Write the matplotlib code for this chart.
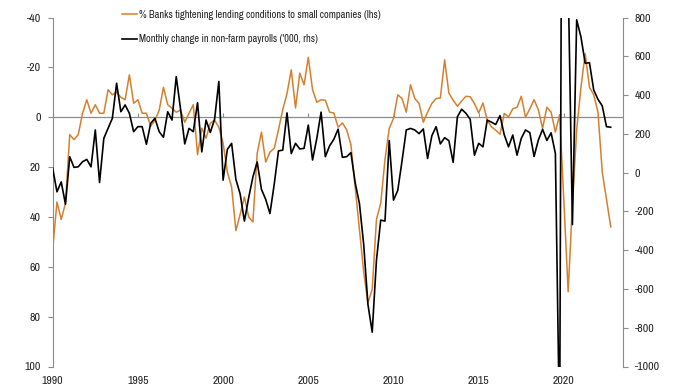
import numpy as np
import matplotlib
matplotlib.use("Agg")
import matplotlib.pyplot as plt
from matplotlib.lines import Line2D

plt.rcParams['font.family'] = ['Archivo Narrow', 'Liberation Sans Narrow', 'DejaVu Sans']
plt.rcParams['axes.unicode_minus'] = False

start_year = 1990
# % banks tightening lending conditions to small companies (lhs, quarterly)
tightening = [53, 34, 41, 34.5, 7, 9, 7, -1.5, -7, -1.6,
              -5, -1.6, -1.6, -11, -9, -10, -8, -7, -17, -5.6,
              -7, -1.6, -1.6, 3.6, 1.2, -2.8, -12, -5, -3.6, -2,
              -2.8, 2, -1.6, -5, 15, 4.4, 8.4, 2.4, 1.2, 4,
              10.4, 22, 28, 45.5, 39, 32, 40, 42, 14.5, 6,
              18, 14, 12.5, 5, -3, -9.5, -19, -3.7, -17.7, -13,
              -24, -11, -6, -7, -6.8, -2, -1.7, 4, 2.3, 5,
              11, 28, 45, 62, 74.5, 69, 41, 34.5, 17, 4.5,
              0.5, -9, -7.5, -2, -13, -7.5, -5.5, 2, -2, -5.5,
              -7.5, -7.7, -23, -9.7, -6.8, -4.4, -6.5, -8.4, -8.2, -5.5,
              -1.7, -5.7, 1.2, 3.9, 5.2, 6.8, -1.5, -0.1, -3.4, -4,
              -8.4, 0, -3.4, -7, -3, 4.5, -4, -2, 6, -1,
              34, 70, 35, 5, -12, -25.5, -12, -9, -2, 22,
              33, 44]
# Monthly change in non-farm payrolls ('000, rhs)
payrolls = [22, -99, -48, -163, 82, 27, 30, 56, 68, 30,
            220, -51, 177, 228, 280, 461, 314, 349, 306, 211,
            237, 237, 146, 254, 280, 211, 182, 314, 271, 495,
            330, 148, 228, 211, 361, 107, 271, 207, 275, 470,
            -39, 120, 151, -35, -110, -250, -130, -22, 55, -86,
            -138, -211, -60, 112, 116, 308, 98, 151, 122, 125,
            245, 65, 177, 312, 82, 138, 172, 224, 79, 82,
            103, -52, -159, -370, -680, -823, -452, -245, -250, 165,
            -142, -92, 60, 220, 228, 220, 201, 225, 73, 190,
            237, 148, 180, 165, 53, 288, 327, 306, 275, 90,
            151, 133, 271, 260, 248, 294, 195, 133, 194, 90,
            177, 220, 206, 83, 168, 223, 166, 205, 99, -1373,
            4781, 1000, -268, 788, 700, 564, 567, 426, 378, 344,
            237, 234]

year_ticks = [1990, 1995, 2000, 2005, 2010, 2015, 2020]
lhs_ticks = [-40, -20, 0, 20, 40, 60, 80, 100]
rhs_ticks = [-1000, -800, -600, -400, -200, 0, 200, 400, 600, 800]

label_orange = "% Banks tightening lending conditions to small companies (lhs)"
label_black = "Monthly change in non-farm payrolls ('000, rhs)"

orange = '#D5802F'
grey = '#8C8C8C'
text_col = '#222222'

x_orange = start_year + np.arange(len(tightening)) / 4.0
x_black = start_year + np.arange(len(payrolls)) / 4.0

fig = plt.figure(figsize=(6.8, 3.89), dpi=100)
ax = fig.add_axes([52.7/680, 1-366.5/389, (623-52.7)/680, (366.5-17.5)/389])
ax2 = ax.twinx()

ax.plot(x_orange, tightening, color=orange, lw=1.1, zorder=3)
ax2.plot(x_black, payrolls, color='black', lw=1.2, zorder=3)

ax.set_xlim(1990, 1990 + (623-52.7)/17.04)
ax.set_ylim(100, -40)
ax2.set_ylim(-1000, 800)

ax.axhline(0, color=grey, lw=0.9, zorder=1)

for a in (ax, ax2):
    for s in a.spines.values():
        s.set_visible(False)
ax.spines['left'].set_visible(True)
ax.spines['left'].set_color(grey)
ax2.spines['right'].set_visible(True)
ax2.spines['right'].set_color(grey)

ax.set_yticks(lhs_ticks)
ax.set_yticklabels([str(t) for t in lhs_ticks])
ax.tick_params(axis='y', direction='out', length=3.5, width=0.8, color=grey,
               pad=5, labelsize=8.5, labelcolor=text_col)
ax2.set_yticks(rhs_ticks)
ax2.set_yticklabels([str(t) for t in rhs_ticks])
ax2.tick_params(axis='y', direction='out', length=3.5, width=0.8, color=grey,
                pad=5, labelsize=8.5, labelcolor=text_col)

ax.set_xticks(year_ticks)
ax.set_xticklabels([str(t) for t in year_ticks])
ax.tick_params(axis='x', length=0, pad=7, labelsize=8.5, labelcolor=text_col)

sec = ax.secondary_xaxis(100/140)
sec.set_xticks(year_ticks)
sec.tick_params(axis='x', direction='out', length=3, width=0.8, color=grey,
                labelbottom=False, labeltop=False)
for s in sec.spines.values():
    s.set_visible(False)

handles = [Line2D([], [], color=orange, lw=1.1), Line2D([], [], color='black', lw=1.2)]
fig.legend(handles, [label_orange, label_black], loc='upper left',
           bbox_to_anchor=(120/680, 1 - 8/389), frameon=False, fontsize=7.5,
           handlelength=1.4, handletextpad=0.2, labelspacing=1.35,
           borderaxespad=0, borderpad=0.2, labelcolor=text_col)

fig.savefig('out.png', dpi=100)
